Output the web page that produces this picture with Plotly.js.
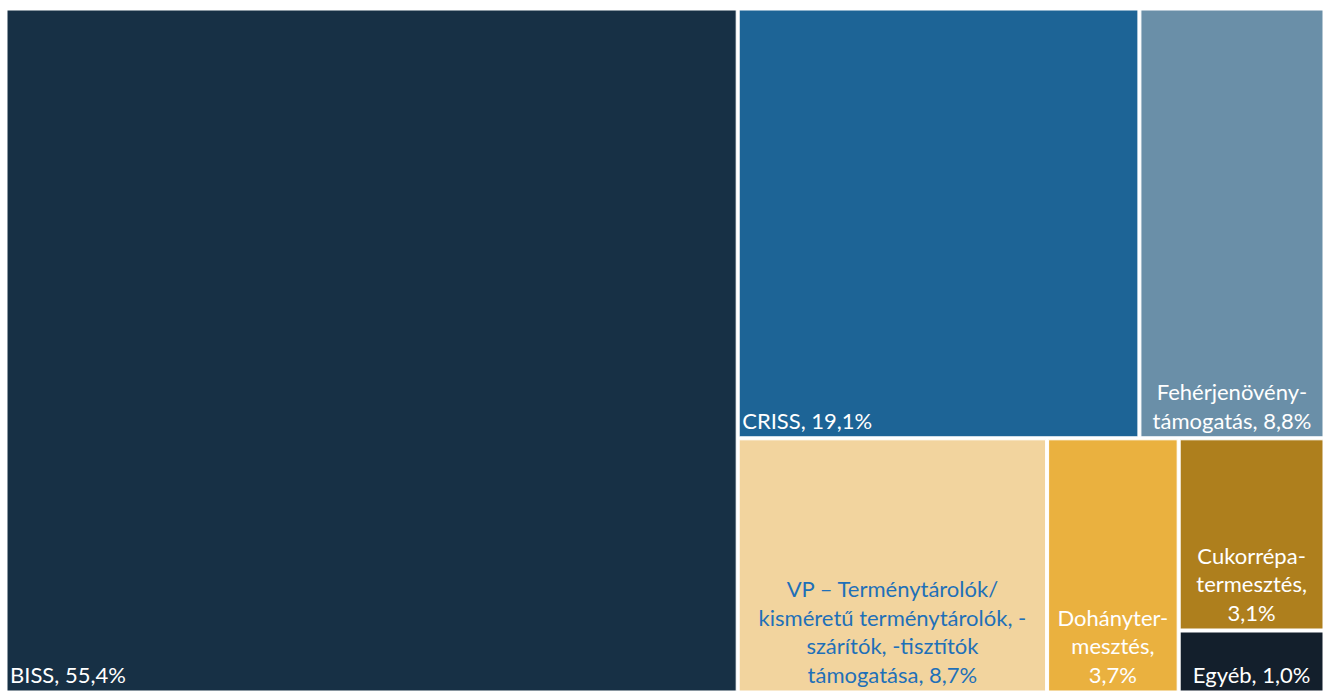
<!DOCTYPE html>
<html><head><meta charset="utf-8">
<script src="https://cdn.plot.ly/plotly-3.0.1.min.js"></script>
<style>html,body{margin:0;padding:0;background:#fff}#chart{width:1323px;height:691px}</style>
</head><body><div id="chart"></div>
<script>
// Leaf categories and their shares (%)
const categories = ["BISS", "CRISS", "Fehérjenövény-támogatás",
  "VP – Terménytárolók/kisméretű terménytárolók, -szárítók, -tisztítók támogatása",
  "Dohánytermesztés", "Cukorrépa-termesztés", "Egyéb"];
const shares = [55.4, 19.1, 8.8, 8.7, 3.7, 3.1, 1.0];
const cellLabels = ["BISS, 55,4%", "CRISS, 19,1%", "Fehérjenövény-<br>támogatás, 8,8%",
  "VP – Terménytárolók/<br>kisméretű terménytárolók, -<br>szárítók, -tisztítók<br>támogatása, 8,7%",
  "Dohányter-<br>mesztés,<br>3,7%", "Cukorrépa-<br>termesztés,<br>3,1%", "Egyéb, 1,0%"];
const cellParents = ["", "felső", "felső", "alsó", "alsó", "kicsi", "kicsi"];
const cellColors = ["#173045", "#1d6496", "#6a8fa8", "#f2d49e", "#eab13f", "#ae7f1d", "#131f2c"];
const labelColors = ["#ffffff", "#ffffff", "#ffffff", "#1f70b8", "#ffffff", "#ffffff", "#ffffff"];
const leftAligned = [true, true, false, false, false, false, false];
// invisible grouping nodes that give the tile arrangement
const groupIds = ["jobb", "felső", "alsó", "kicsi"];
const groupParents = ["", "jobb", "jobb", "alsó"];

const ids = categories.concat(groupIds);
const parents = cellParents.concat(groupParents);
const values = shares.concat(groupIds.map(() => 0));

function texts(wantLeft) {
  return cellLabels.map((t, i) => (leftAligned[i] === wantLeft ? t : "")).concat(groupIds.map(() => ""));
}
const font = "Lato, 'Open Sans', sans-serif";

const common = {
  type: "treemap",
  ids: ids, labels: ids, parents: parents, values: values,
  branchvalues: "remainder",
  sort: false,
  textinfo: "text",
  tiling: {packing: "slice-dice", pad: 3},
  pathbar: {visible: false},
  domain: {x: [0, 1], y: [0, 1]},
  hoverinfo: "label+value"
};

const traceA = Object.assign({}, common, {
  text: texts(true),
  textposition: "bottom left",
  marker: {colors: cellColors.concat(groupIds.map(() => "#ffffff")),
           line: {color: "#ffffff", width: 1}, pad: {t: 0, l: 0, r: 0, b: 0}},
  textfont: {family: font, size: 22, color: labelColors.concat(groupIds.map(() => "#ffffff"))}
});
const traceB = Object.assign({}, common, {
  text: texts(false),
  textposition: "bottom center",
  marker: {colors: ids.map(() => "rgba(0,0,0,0)"),
           line: {color: "rgba(0,0,0,0)", width: 0}, pad: {t: 0, l: 0, r: 0, b: 0}},
  textfont: {family: font, size: 22, color: labelColors.concat(groupIds.map(() => "#ffffff"))},
  hoverinfo: "skip"
});

Plotly.newPlot("chart", [traceA, traceB], {
  width: 1323, height: 691,
  margin: {l: 7, r: 0, t: 10, b: 0},
  paper_bgcolor: "#ffffff",
  font: {family: font},
  showlegend: false
}, {displayModeBar: false, staticPlot: true});
</script></body></html>
